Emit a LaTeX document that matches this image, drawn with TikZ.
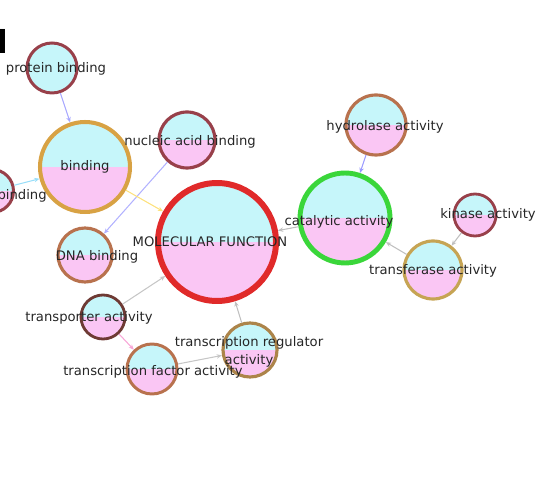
\documentclass[tikz,border=0pt]{standalone}
\usepackage{fontspec}
\setmainfont{DejaVu Sans}
\usetikzlibrary{arrows.meta}
\definecolor{topfill}{HTML}{C6F6FA}
\definecolor{botfill}{HTML}{FAC6F4}
\definecolor{mfred}{HTML}{E02A2A}
\definecolor{catgreen}{HTML}{3AD63A}
\definecolor{gold}{HTML}{D8A244}
\definecolor{rust}{HTML}{B8724E}
\definecolor{wine}{HTML}{98404A}
\definecolor{olive}{HTML}{C6A454}
\definecolor{umber}{HTML}{6E3A34}
\tikzstyle{goterm}=[circle,inner sep=0pt,path picture={
    \fill[topfill] (path picture bounding box.north west) rectangle (path picture bounding box.east);
    \fill[botfill] (path picture bounding box.west) rectangle (path picture bounding box.south east);}]
\tikzstyle{golabel}=[inner sep=0pt,text=black!85,font=\fontsize{7.5}{10.5}\selectfont,align=center]

\begin{document}
\begin{tikzpicture}[x=0.02cm,y=-0.02cm]
    \useasboundingbox (0,0) rectangle (550,492);
    \node[goterm,draw=wine,line width=1.7pt,minimum size=1cm,path picture={\fill[topfill] (path picture bounding box.north west) rectangle (path picture bounding box.south east);}] (pb) at (52,68) {};
    \node[goterm,draw=gold,line width=2.3pt,minimum size=1.8cm] (bd) at (85,167) {};
    \node[goterm,draw=wine,line width=1.7pt,minimum size=0.86cm] (ib) at (-8,191) {};
    \node[goterm,draw=wine,line width=1.8pt,minimum size=1.12cm] (na) at (187,140) {};
    \node[goterm,draw=mfred,line width=3.4pt,minimum size=2.36cm] (mf) at (217,242) {};
    \node[goterm,draw=rust,line width=1.8pt,minimum size=1.08cm] (dna) at (85,255) {};
    \node[goterm,draw=catgreen,line width=2.8pt,minimum size=1.8cm] (cat) at (345,218) {};
    \node[goterm,draw=rust,line width=1.8pt,minimum size=1.2cm] (hyd) at (376,125) {};
    \node[goterm,draw=wine,line width=1.6pt,minimum size=0.84cm] (kin) at (475,215) {};
    \node[goterm,draw=olive,line width=1.8pt,minimum size=1.16cm] (tfa) at (433,270) {};
    \node[goterm,draw=umber,line width=1.6pt,minimum size=0.88cm] (tpa) at (103,317) {};
    \node[goterm,draw=olive!70!umber,line width=1.8pt,minimum size=1.08cm] (trg) at (250,350) {};
    \node[goterm,draw=rust,line width=1.7pt,minimum size=1cm] (tfc) at (152,369) {};

    \foreach \from/\to/\col in {pb/bd/blue!35,ib/bd/cyan!40,na/dna/blue!30,bd/mf/yellow!60!orange!50,
        tpa/mf/gray!45,tpa/tfc/magenta!35,tfc/trg/gray!45,trg/mf/gray!50,cat/mf/gray!50,
        hyd/cat/blue!40,tfa/cat/gray!50,kin/tfa/gray!50}
    \draw[\col,line width=0.6pt,-{Stealth[length=3pt,width=2.5pt]}] (\from) -- (\to);

    \node[golabel] (pbt) at (56,69) {protein binding};
    \node[golabel] (bdt) at (85,167) {binding};
    \node[golabel,anchor=east] (ibt) at (47,196) {binding};
    \node[golabel] (nat) at (190,142) {nucleic acid binding};
    \node[golabel] (mft) at (210,242) {MOLECULAR FUNCTION};
    \node[golabel] (dnat) at (97,257) {DNA binding};
    \node[golabel] (catt) at (339,222) {catalytic activity};
    \node[golabel] (hydt) at (385,127) {hydrolase activity};
    \node[golabel] (kint) at (488,215) {kinase activity};
    \node[golabel] (tfat) at (433,271) {transferase activity};
    \node[golabel] (tpat) at (89,318) {transporter activity};
    \node[golabel] (trgt) at (249,352) {transcription regulator\\activity};
    \node[golabel] (tfct) at (153,372) {transcription factor activity};
    \node[anchor=south east,inner sep=0pt,font=\fontsize{18}{18}\selectfont\bfseries] (panel) at (8,54) {d};
\end{tikzpicture}
\end{document}
